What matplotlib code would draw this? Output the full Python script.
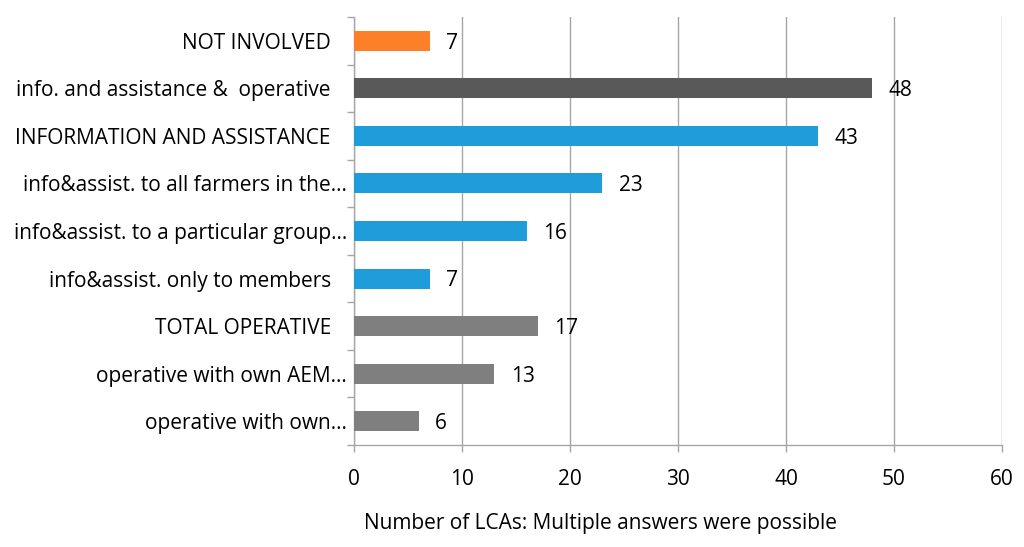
import matplotlib
matplotlib.use("Agg")
import matplotlib.pyplot as plt

categories = [
    "NOT INVOLVED   ",
    "info. and assistance &  operative   ",
    "INFORMATION AND ASSISTANCE   ",
    "info&assist. to all farmers in the…",
    "info&assist. to a particular group…",
    "info&assist. only to members   ",
    "TOTAL OPERATIVE   ",
    "operative with own AEM…",
    "operative with own…",
]
values = [7, 48, 43, 23, 16, 7, 17, 13, 6]
colors = ["#FD7F28", "#595959", "#1E9DDA", "#1E9DDA", "#1E9DDA", "#1E9DDA",
          "#7F7F7F", "#7F7F7F", "#7F7F7F"]
xticks = [0, 10, 20, 30, 40, 50, 60]
xlabel = "Number of LCAs: Multiple answers were possible"

plt.rcParams['font.family'] = ['Open Sans', 'DejaVu Sans']
fs = 15

fig = plt.figure(figsize=(10.24, 5.47), dpi=100)
ax = fig.add_axes([354/1024, 1-445/547, (1002-354)/1024, (445-17)/547])

n = len(categories)
ypos = list(range(n))
ax.barh(ypos, values, height=0.42, color=colors, zorder=3)
for y, v in zip(ypos, values):
    ax.text(v + 1.5, y + 0.05, str(v), va='center', ha='left', fontsize=fs, color='#000000')

ax.set_ylim(n - 0.5, -0.5)
ax.set_xlim(0, 60)
ax.set_xticks(xticks)
ax.set_xticklabels([str(t) for t in xticks], fontsize=fs)
ax.set_yticks(ypos)
ax.set_yticklabels(categories, fontsize=fs)
ax.tick_params(axis='y', length=0, pad=5)
ax.set_yticks([i - 0.5 for i in range(n + 1)], minor=True)
ax.tick_params(axis='y', which='minor', length=5, color='#A6A6A6', width=1)
ax.tick_params(axis='x', length=5, color='#A6A6A6', width=1, pad=12)
ax.grid(axis='x', color='#A6A6A6', linewidth=1, zorder=0)
for s in ['top', 'right']:
    ax.spines[s].set_visible(False)
for s in ['left', 'bottom']:
    ax.spines[s].set_color('#A6A6A6')
    ax.spines[s].set_linewidth(1)
fig.text(600/1024, 1-524/547, xlabel, fontsize=fs, ha='center', va='center')

fig.savefig("out.png", dpi=100)
